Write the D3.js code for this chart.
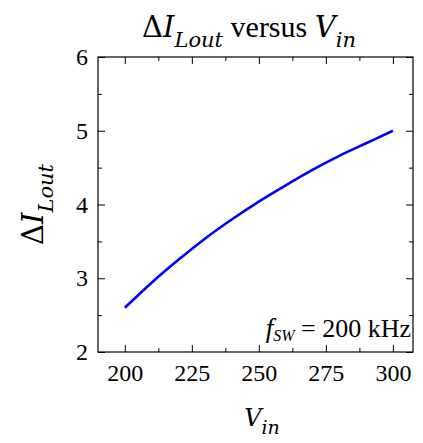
<!DOCTYPE html>
<html>
<head>
<meta charset="utf-8">
<script src="https://cdn.jsdelivr.net/npm/d3@7"></script>
<style>
    body { margin: 0; background: #fff; }
    svg { font-family: "Liberation Serif", "Times New Roman", Times, serif; }
    .rm { font-family: "Liberation Serif", "Times New Roman", Times, serif; }
    .mi { font-family: "DejaVu Serif", serif; }
</style>
</head>
<body>
<script>
(function() {
    'use strict';

    // values
    var vin = [200, 210, 220, 230, 240, 250, 260, 270, 280, 290, 300];
    var deltaI = [2.60, 2.94, 3.25, 3.54, 3.80, 4.04, 4.26, 4.47, 4.66, 4.83, 5.00];

    var xTicks = [200, 225, 250, 275, 300];
    var xMinor = [212.5, 237.5, 262.5, 287.5];
    var yTicks = [2, 3, 4, 5, 6];
    var yMinor = [2.5, 3.5, 4.5, 5.5];

    var w = 423;
    var h = 443;
    var left = 98, right = 413, top = 57, bottom = 352;

    var svg = d3.select("body")
                .append("svg")
                .attr("width", w)
                .attr("height", h);

    var x = d3.scaleLinear().domain([190, 307.5]).range([left, right]);
    var y = d3.scaleLinear().domain([2, 6]).range([bottom, top]);
    var fmt = d3.format("d");

    function styleAxis(g) {
        g.attr("font-family", null).attr("font-size", null);
        g.select(".domain").remove();
        g.selectAll(".tick line").attr("stroke", "#000").attr("stroke-width", 1);
        g.selectAll(".tick text")
         .attr("class", "rm")
         .attr("fill", "#000")
         .style("font-size", "24px");
    }

    // bottom
    svg.append("g")
       .attr("transform", "translate(0," + bottom + ")")
       .call(d3.axisBottom(x).tickValues(xTicks).tickSize(-7).tickPadding(12).tickFormat(fmt))
       .call(styleAxis);
    svg.append("g")
       .attr("transform", "translate(0," + bottom + ")")
       .call(d3.axisBottom(x).tickValues(xMinor).tickSize(-4).tickFormat(""))
       .call(styleAxis);
    // top
    svg.append("g")
       .attr("transform", "translate(0," + top + ")")
       .call(d3.axisTop(x).tickValues(xTicks).tickSize(-7).tickFormat(""))
       .call(styleAxis);
    svg.append("g")
       .attr("transform", "translate(0," + top + ")")
       .call(d3.axisTop(x).tickValues(xMinor).tickSize(-4).tickFormat(""))
       .call(styleAxis);
    // left
    svg.append("g")
       .attr("transform", "translate(" + left + ",0)")
       .call(d3.axisLeft(y).tickValues(yTicks).tickSize(-7).tickPadding(10).tickFormat(fmt))
       .call(styleAxis);
    svg.append("g")
       .attr("transform", "translate(" + left + ",0)")
       .call(d3.axisLeft(y).tickValues(yMinor).tickSize(-4).tickFormat(""))
       .call(styleAxis);
    // right
    svg.append("g")
       .attr("transform", "translate(" + right + ",0)")
       .call(d3.axisRight(y).tickValues(yTicks).tickSize(-7).tickFormat(""))
       .call(styleAxis);
    svg.append("g")
       .attr("transform", "translate(" + right + ",0)")
       .call(d3.axisRight(y).tickValues(yMinor).tickSize(-4).tickFormat(""))
       .call(styleAxis);

    svg.append("rect")
       .attr("x", left)
       .attr("y", top)
       .attr("width", right - left)
       .attr("height", bottom - top)
       .attr("fill", "none")
       .attr("stroke", "#000")
       .attr("stroke-width", 1.2);

    var line = d3.line()
                 .x(function(d, i) { return x(vin[i]); })
                 .y(function(d) { return y(d); })
                 .curve(d3.curveMonotoneX);

    svg.append("path")
       .datum(deltaI)
       .attr("d", line)
       .attr("fill", "none")
       .attr("stroke", "#0000ff")
       .attr("stroke-width", 2.6);

    // math-ish labels built from tspans
    function addParts(t, parts) {
        parts.forEach(function(p) {
            t.append("tspan")
             .attr("class", p.rm ? "rm" : "mi")
             .attr("dy", p.dy || 0)
             .style("font-style", p.it ? "italic" : "normal")
             .style("font-size", p.s + "px")
             .text(p.t);
        });
        return t;
    }

    var title = svg.append("text")
                   .attr("x", 249)
                   .attr("y", 37)
                   .attr("text-anchor", "middle")
                   .attr("fill", "#000");
    addParts(title, [
        {t: "\u0394", s: 29},
        {t: "I", s: 29, it: true},
        {t: "Lout", s: 21, it: true, dy: 10},
        {t: "\u00a0versus\u00a0", s: 30, rm: true, dy: -10},
        {t: "V", s: 29, it: true},
        {t: "in", s: 21, it: true, dy: 10}
    ]);

    var ylab = svg.append("text")
                  .attr("transform", "translate(43," + ((top + bottom) / 2) + ") rotate(-90)")
                  .attr("text-anchor", "middle")
                  .attr("fill", "#000");
    addParts(ylab, [
        {t: "\u0394", s: 29},
        {t: "I", s: 29, it: true},
        {t: "Lout", s: 21, it: true, dy: 10}
    ]);

    var xlab = svg.append("text")
                  .attr("x", 262)
                  .attr("y", 426)
                  .attr("text-anchor", "middle")
                  .attr("fill", "#000");
    addParts(xlab, [
        {t: "V", s: 24, it: true},
        {t: "in", s: 19, it: true, dy: 8}
    ]);

    var note = svg.append("text")
                  .attr("x", 411)
                  .attr("y", 337)
                  .attr("text-anchor", "end")
                  .attr("fill", "#000");
    addParts(note, [
        {t: "f", s: 27, it: true, rm: true},
        {t: "SW", s: 16, it: true, rm: true, dy: 4},
        {t: "\u00a0=\u00a0200\u00a0kHz", s: 26, rm: true, dy: -4}
    ]);
}());
</script>
</body>
</html>
